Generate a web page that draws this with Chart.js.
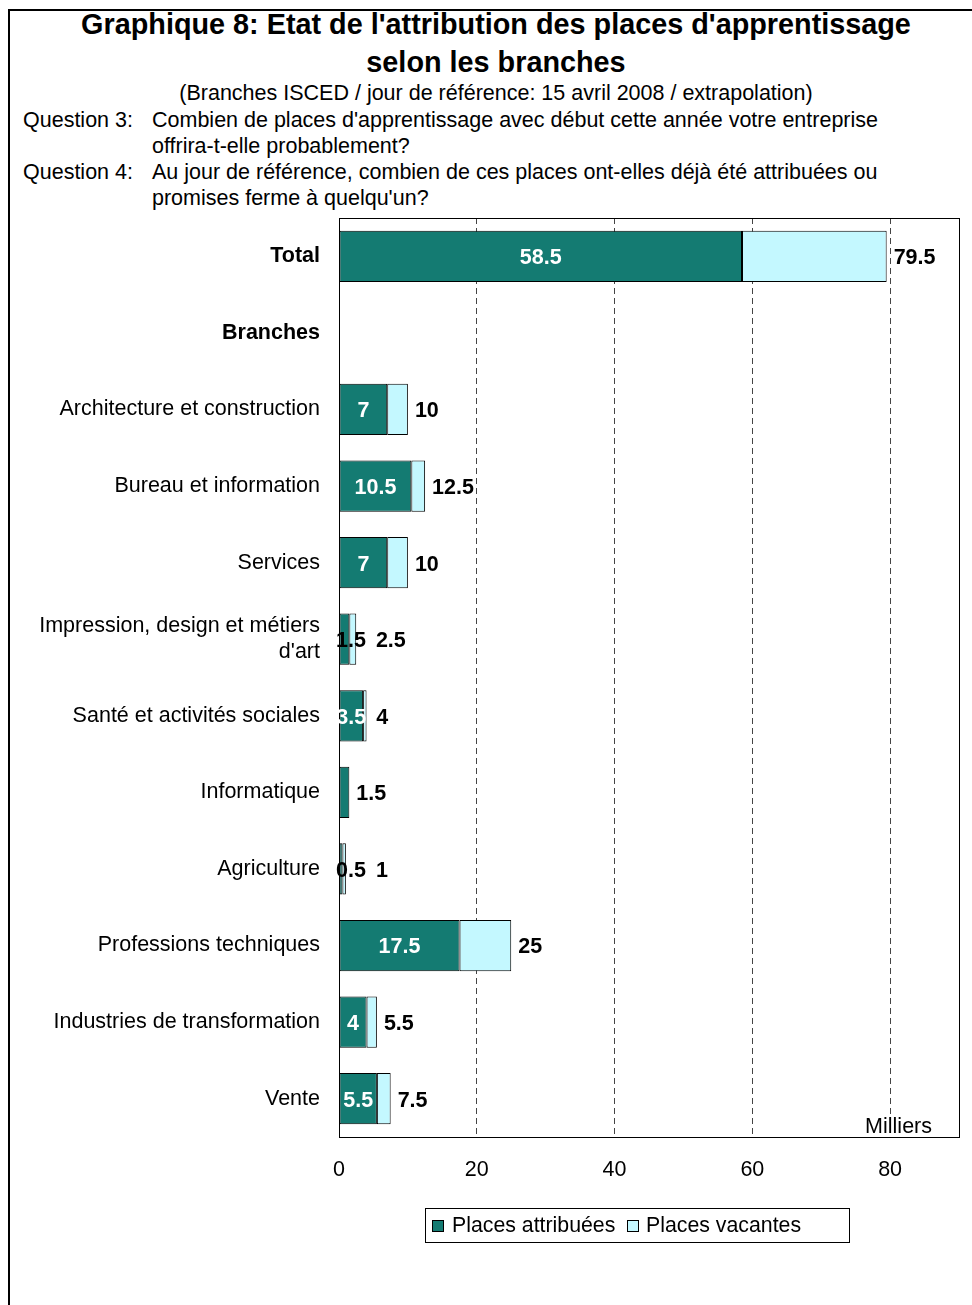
<!DOCTYPE html>
<html lang="fr">
<head>
<meta charset="utf-8">
<title>Graphique 8</title>
<script src="https://cdn.jsdelivr.net/npm/chart.js@4/dist/chart.umd.min.js"></script>
<style>
  html, body { margin: 0; padding: 0; background: #fff; }
  body { width: 972px; height: 1305px; position: relative; overflow: hidden;
         font-family: "Liberation Sans", Arial, sans-serif; color: #000; }
  .frame { position: absolute; left: 8px; top: 9px; width: 990px; height: 1320px;
           border-left: 2px solid #000; border-top: 2px solid #000; }
  .title { position: absolute; left: 8px; width: 976px; top: 5px; text-align: center;
           font-weight: bold; font-size: 28.8px; line-height: 38px; }
  .sub { position: absolute; left: 8px; width: 976px; top: 80px; text-align: center;
         font-size: 21.5px; line-height: 26px; }
  .q { position: absolute; left: 23px; font-size: 21.5px; line-height: 26px; }
  .q .txt { position: absolute; left: 129px; top: 0; width: 760px; }
  #chart { position: absolute; left: 0; top: 0; }
  .legend { position: absolute; left: 425px; top: 1208px; width: 423px; height: 33px;
            border: 1px solid #000; font-size: 21.3px; line-height: 33px; }
  .legend .sw { position: absolute; top: 11px; width: 10px; height: 10px; border: 1px solid #000; }
  .legend .lab { position: absolute; top: 0; white-space: nowrap; }
</style>
</head>
<body>
<div class="frame"></div>
<div class="title">Graphique 8: Etat de l'attribution des places d'apprentissage<br>selon les branches</div>
<div class="sub">(Branches ISCED / jour de référence: 15 avril 2008 / extrapolation)</div>
<div class="q" style="top:107px">Question 3:<div class="txt">Combien de places d'apprentissage avec début cette année votre entreprise offrira-t-elle probablement?</div></div>
<div class="q" style="top:159px">Question 4:<div class="txt">Au jour de référence, combien de ces places ont-elles déjà été attribuées ou promises ferme à quelqu'un?</div></div>

<canvas id="chart" width="972" height="1305"></canvas>

<div class="legend">
  <div class="sw" style="left:6px;background:#147B72"></div>
  <div class="lab" style="left:26px">Places attribuées</div>
  <div class="sw" style="left:201px;background:#C4F8FF"></div>
  <div class="lab" style="left:220px">Places vacantes</div>
</div>

<script>
// Branches (ISCED), first row is the overall total, second row is a section heading
const categories = [
  'Total',
  'Branches',
  'Architecture et construction',
  'Bureau et information',
  'Services',
  ['Impression, design et métiers', "d'art"],
  'Santé et activités sociales',
  'Informatique',
  'Agriculture',
  'Professions techniques',
  'Industries de transformation',
  'Vente'
];

// Places d'apprentissage, en milliers
const placesAttribuees = [58.5, null, 7, 10.5, 7, 1.5, 3.5, 1.5, 0.5, 17.5, 4, 5.5];
const placesVacantes   = [21,   null, 3, 2,    3, 1,   0.5, 0,   0.5, 7.5,  1.5, 2];

const xTicks = [0, 20, 40, 60, 80];
const xMax = 90;
const boldRows = ['Total', 'Branches'];

const FONT = '"Liberation Sans", Arial, sans-serif';
const COL_ATTR = '#147B72';
const COL_VAC = '#C4F8FF';

const fmt = v => String(Math.round(v * 10) / 10);

// Plot frame, drawn below the bars
const framePlugin = {
  id: 'frame',
  beforeDatasetsDraw(chart) {
    const a = chart.chartArea, ctx = chart.ctx;
    ctx.save();
    ctx.strokeStyle = '#000';
    ctx.lineWidth = 1;
    ctx.strokeRect(Math.round(a.left) + 0.5, Math.round(a.top) + 0.5,
                   Math.round(a.right - a.left), Math.round(a.bottom - a.top));
    ctx.restore();
  },
  afterDatasetsDraw(chart) {
    // unit note in the lower right corner of the plot
    const a = chart.chartArea, ctx = chart.ctx;
    ctx.save();
    ctx.font = '21.5px ' + FONT;
    const w = ctx.measureText('Milliers').width;
    const xr = a.right - 27;
    ctx.fillStyle = '#fff';
    ctx.fillRect(xr - w - 1, a.bottom - 21, w + 2, 20);
    ctx.fillStyle = '#000';
    ctx.textAlign = 'right';
    ctx.textBaseline = 'alphabetic';
    ctx.fillText('Milliers', xr, a.bottom - 4);
    ctx.restore();
  }
};

// Value labels: attributed places inside the dark segment, total after the bar
const labelPlugin = {
  id: 'valueLabels',
  afterDatasetsDraw(chart) {
    const ctx = chart.ctx, a = chart.chartArea;
    const m0 = chart.getDatasetMeta(0), m1 = chart.getDatasetMeta(1);
    ctx.save();
    ctx.font = 'bold 21.5px ' + FONT;
    ctx.textBaseline = 'middle';
    ctx.textAlign = 'left';
    categories.forEach((c, i) => {
      const att = placesAttribuees[i], vac = placesVacantes[i];
      if (att == null) return;
      const b0 = m0.data[i], b1 = m1.data[i];
      const y = b0.y + 2;
      let innerRight = -Infinity;
      if (vac > 0) {
        const t = fmt(att);
        const w = ctx.measureText(t).width;
        const cx = (b0.x + b0.base) / 2;
        const left = Math.max(cx - w / 2, a.left - 3);
        const segW = Math.abs(b0.x - b0.base);
        ctx.fillStyle = segW >= 20 ? '#fff' : '#000';
        ctx.fillText(t, left, y);
        innerRight = left + w;
      }
      const total = att + vac;
      const end = vac > 0 ? b1.x : b0.x;
      const tx = Math.max(end + 7, innerRight + 10);
      ctx.fillStyle = '#000';
      ctx.fillText(fmt(total), tx, y);
    });
    ctx.restore();
  }
};

new Chart(document.getElementById('chart'), {
  type: 'bar',
  data: {
    labels: categories,
    datasets: [
      { label: 'Places attribuées', data: placesAttribuees, backgroundColor: COL_ATTR,
        borderColor: '#000', borderWidth: 1, borderSkipped: false },
      { label: 'Places vacantes', data: placesVacantes, backgroundColor: COL_VAC,
        borderColor: '#000', borderWidth: 1, borderSkipped: false }
    ]
  },
  plugins: [framePlugin, labelPlugin],
  options: {
    indexAxis: 'y',
    responsive: false,
    animation: false,
    devicePixelRatio: 1,
    categoryPercentage: 1,
    barPercentage: 0.67,
    layout: { padding: { top: 218, right: 13, bottom: 0, left: 0 } },
    plugins: { legend: { display: false }, tooltip: { enabled: false } },
    scales: {
      x: {
        stacked: true,
        min: 0,
        max: xMax,
        afterBuildTicks(scale) {
          scale.ticks = xTicks.map(v => ({ value: v }));
        },
        afterFit(scale) { scale.height = 168; },
        ticks: {
          color: '#000',
          font: { family: FONT, size: 21.5 },
          padding: 20,
          maxRotation: 0
        },
        grid: {
          drawTicks: false,
          lineWidth: 1,
          color: ctx => (ctx.tick && ctx.tick.value > 0 && ctx.tick.value < xMax) ? '#444' : 'rgba(0,0,0,0)'
        },
        border: { display: false, dash: [6, 4] }
      },
      y: {
        stacked: true,
        afterFit(scale) { scale.width = 339; },
        ticks: {
          color: '#000',
          padding: 19,
          autoSkip: false,
          font: ctx => ({
            family: FONT,
            size: 21.5,
            weight: boldRows.includes(categories[ctx.index]) ? 'bold' : 'normal',
            lineHeight: 1.2
          })
        },
        grid: { display: false, drawTicks: false },
        border: { display: false }
      }
    }
  }
});
</script>
</body>
</html>
